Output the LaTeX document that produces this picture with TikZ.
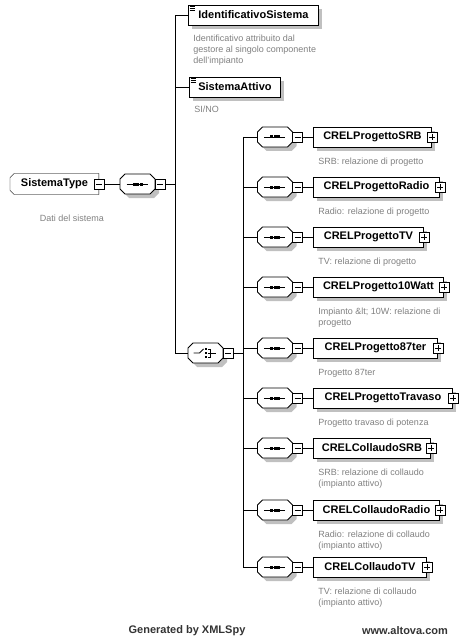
\documentclass[tikz,border=0pt]{standalone}
\usepackage{fontspec}
\setmainfont{Liberation Sans}
\usetikzlibrary{shadows, backgrounds, positioning}

\definecolor{descgray}{RGB}{128,128,128}
\definecolor{shadowgray}{RGB}{192,192,192}

\begin{document}
\begin{tikzpicture}[
		x=1pt, y=-1pt, line width=0.9pt,
		% Drop shadow shared by all boxes
		boxshadow/.style={general shadow={fill=shadowgray, shadow xshift=4pt, shadow yshift=-4pt}},
		% Element boxes
		elem/.style={draw, fill=white, boxshadow, rectangle, minimum height=20pt, inner sep=0pt,
			font=\bfseries\fontsize{11}{13}\selectfont},
		% Type box: frame drawn behind it
		ctype/.style={rectangle, minimum height=20pt, inner sep=0pt,
			font=\bfseries\fontsize{11}{13}\selectfont},
		% Sequence / choice compositors (frame drawn by octoframe)
		compositor/.style={rectangle, minimum width=35pt, minimum height=20pt, inner sep=0pt},
		octpath/.style={insert path={(-17.5,-5) -- (-12.5,-10) -- (12.5,-10) -- (17.5,-5)
				-- (17.5,5) -- (12.5,10) -- (-12.5,10) -- (-17.5,5) -- cycle}},
		octoframe/.pic={\fill[shadowgray, shift={(4,4)}, octpath];
			\filldraw[fill=white, octpath];},
		% Small +/- expanders
		collapsebox/.style={draw, fill=white, minimum size=10pt, inner sep=0pt, line width=0.7pt,
			path picture={\draw ([xshift=2pt]path picture bounding box.west) -- ([xshift=-2pt]path picture bounding box.east);}},
		expandbox/.style={draw, fill=white, minimum size=10pt, inner sep=0pt, line width=0.7pt,
			path picture={\draw ([xshift=2pt]path picture bounding box.west) -- ([xshift=-2pt]path picture bounding box.east);
				\draw ([yshift=-2pt]path picture bounding box.north) -- ([yshift=2pt]path picture bounding box.south);}},
		% Annotation text
		desc/.style={text=descgray, font=\fontsize{9}{11}\selectfont, align=left, inner sep=0pt, anchor=north west},
		footer/.style={font=\bfseries\fontsize{11}{13}\selectfont, text=black!80},
		% Compositor icons
		seqicon/.pic={\draw (-11,0) -- (10,0);
			\foreach \dx in {-3.5,0,3.5} \fill (\dx-1.5,-1.5) rectangle (\dx+1.5,1.5);},
		choiceicon/.pic={\draw (-12,0) -- (-6,0) -- (-2,-4);
			\foreach \dy in {-4,0,4} \fill (-0.5,\dy-0.9) rectangle (1.5,\dy+0.9);
			\draw (2.5,-4) -- (4.5,-4) -- (4.5,4) -- (2.5,4);
			\draw (2.5,0) -- (10,0);}
	]
	\useasboundingbox (0,0) rectangle (467,639);

	% Root type and its sequence
	\node[ctype, minimum width=88pt, anchor=west] (systype) at (10,184) {SistemaType};
	\begin{scope}[on background layer]
		\fill[shadowgray, xshift=4pt, yshift=-4pt] ([xshift=4pt]systype.north west) -- (systype.north east)
			-- (systype.south east) -- ([xshift=4pt]systype.south west) -- ([yshift=4pt]systype.south west)
			-- ([yshift=-4pt]systype.north west) -- cycle;
		\filldraw[fill=white] ([xshift=4pt]systype.north west) -- (systype.north east)
			-- (systype.south east) -- ([xshift=4pt]systype.south west) -- ([yshift=4pt]systype.south west)
			-- ([yshift=-4pt]systype.north west) -- cycle;
	\end{scope}
	\node[collapsebox] (stc) at (systype.east) {};
	\node[desc, anchor=center] at (72,218) {Dati del sistema};
	\pic at (137.5,184) {octoframe};
	\node[compositor] (mainseq) at (137.5,184) {};
	\pic at (mainseq) {seqicon};
	\node[collapsebox] (msc) at (160,184) {};
	\draw (stc) -- (mainseq);
	\coordinate (trunk) at (175,184);
	\draw (msc) -- (trunk);

	% Simple elements
	\node[elem, anchor=west, minimum width=130pt] (ident) at (188,15) {IdentificativoSistema};
	\node[desc] at (193,34.5) {Identificativo attribuito dal\\gestore al singolo componente\\dell'impianto};
	\node[elem, anchor=west, minimum width=91pt] (attivo) at (189,87) {SistemaAttivo};
	\node[desc] at (194,105.5) {SI/NO};
	\foreach \n in {ident, attivo}
		\foreach \dy in {2,4,6}
			\draw[line width=0.6pt] ([shift={(1.5,\dy)}]\n.north west) -- +(5.5,0);

	% Choice
	\pic at (205.5,353) {octoframe};
	\node[compositor] (choice) at (205.5,353) {};
	\pic at (choice) {choiceicon};
	\node[collapsebox] (chc) at (228,353) {};
	\draw (ident.west) -| (choice.west -| trunk) -- (choice.west);
	\draw (attivo.west) -- (attivo.west -| trunk);

	% Choice branches
	\foreach \yy/\rr/\nm/\dsc [count=\i] in {
			137/431/CRELProgettoSRB/{SRB: relazione di progetto},
			187/439/CRELProgettoRadio/{Radio: relazione di progetto},
			237/423/CRELProgettoTV/{TV: relazione di progetto},
			287/443/CRELProgetto10Watt/{Impianto \&lt; 10W: relazione di\\progetto},
			348/437/CRELProgetto87ter/{Progetto 87ter},
			398/452/CRELProgettoTravaso/{Progetto travaso di potenza},
			448/430/CRELCollaudoSRB/{SRB: relazione di collaudo\\(impianto attivo)},
			510/439/CRELCollaudoRadio/{Radio: relazione di collaudo\\(impianto attivo)},
			567/426/CRELCollaudoTV/{TV: relazione di collaudo\\(impianto attivo)}} {
		\coordinate (bus\i) at (243,\yy);
		\pic at (275,\yy) {octoframe};
		\node[compositor] (seq\i) at (275,\yy) {};
		\pic at (seq\i) {seqicon};
		\node[collapsebox] (sc\i) at (297.5,\yy) {};
		\node[elem, anchor=west, minimum width=\rr-313] (el\i) at (313,\yy) {\nm};
		\node[expandbox] (ex\i) at (el\i.east) {};
		\node[desc] at (318,\yy+20.5) {\dsc};
		\draw (bus\i) -- (seq\i);
		\draw (sc\i) -- (el\i);
	}
	\draw (bus1) -- (bus9);
	\draw (chc) -- (chc -| bus1);

	% Footer
	\node[footer] at (187,631) {Generated by XMLSpy};
	\node[footer] at (405,631) {www.altova.com};
\end{tikzpicture}
\end{document}
